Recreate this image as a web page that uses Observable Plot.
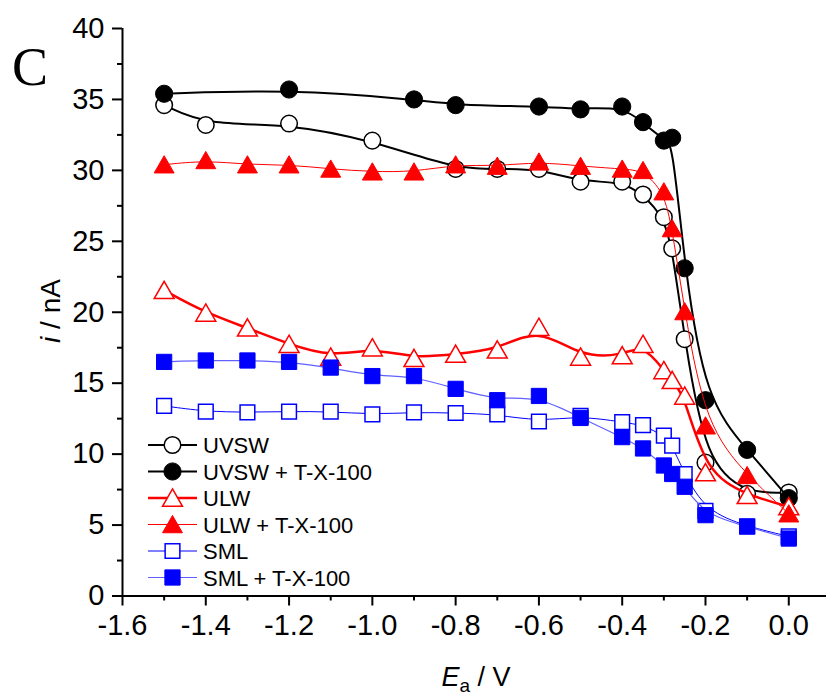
<!DOCTYPE html>
<html>
<head>
<meta charset="utf-8">
<script src="https://cdn.jsdelivr.net/npm/d3@7"></script>
<script src="https://cdn.jsdelivr.net/npm/@observablehq/plot@0.6"></script>
<style>
  html, body { margin: 0; padding: 0; background: #fff; overflow: hidden; }
  #chart svg { display: block; }
</style>
</head>
<body>
<div id="chart"></div>
<script>
// ---- data ----
const xFull = [-1.5,-1.4,-1.3,-1.2,-1.1,-1.0,-0.9,-0.8,-0.7,-0.6,-0.5,-0.4,-0.35,-0.3,-0.28,-0.25,-0.2,-0.1,0];

const uvswX  = [-1.5,-1.4,-1.2,-1.0,-0.8,-0.7,-0.6,-0.5,-0.4,-0.35,-0.3,-0.28,-0.25,-0.2,-0.1,0];
const uvswY  = [34.6,33.2,33.3,32.1,30.1,30.1,30.1,29.2,29.2,28.3,26.7,24.5,18.1,9.4,7.2,7.3];

const uvswTX = [-1.5,-1.2,-0.9,-0.8,-0.6,-0.5,-0.4,-0.35,-0.3,-0.28,-0.25,-0.2,-0.1,0];
const uvswTY = [35.4,35.7,35.0,34.6,34.5,34.3,34.5,33.4,32.1,32.3,23.1,13.8,10.3,6.9];

const ulwY   = [21.55,19.95,18.9,17.75,16.85,17.5,16.75,17.05,17.35,18.95,16.85,16.95,17.75,15.9,15.2,14.1,8.7,7.1,6.3];
const ulwTY  = [30.4,30.7,30.4,30.4,30.1,29.9,29.9,30.4,30.3,30.6,30.3,30.1,30.0,28.5,25.9,20.05,12.0,8.5,5.8];

const smlY   = [13.4,13.0,12.95,13.0,13.0,12.8,12.95,12.9,12.8,12.3,12.7,12.25,12.05,11.3,10.6,8.6,6.0,4.9,4.2];
const smlTY  = [16.5,16.6,16.6,16.5,16.1,15.5,15.5,14.6,13.8,14.1,12.55,11.2,10.4,9.2,8.6,7.7,5.7,4.9,4.05];

const seriesNames = ["UVSW","UVSW + T-X-100","ULW","ULW + T-X-100","SML","SML + T-X-100"];
const xMajorTicks = [-1.6,-1.4,-1.2,-1.0,-0.8,-0.6,-0.4,-0.2,0.0];
const xMinorTicks = [-1.5,-1.3,-1.1,-0.9,-0.7,-0.5,-0.3,-0.1];
const yMajorTicks = [0,5,10,15,20,25,30,35,40];
const yMinorTicks = [2.5,7.5,12.5,17.5,22.5,27.5,32.5,37.5];

// ---- styles ----
const styles = [
  {symbol: "circle",   r: 8.3, fill: "white", stroke: "black", line: "black",   lw: 2,   sw: 1.5, dy: 0},
  {symbol: "circle",   r: 8.6, fill: "black", stroke: "black", line: "black",   lw: 2,   sw: 1,   dy: 0},
  {symbol: "triangle", r: 7.4, fill: "white", stroke: "red",   line: "red",     lw: 2.5, sw: 1.5, dy: 2.5},
  {symbol: "triangle", r: 7.4, fill: "red",   stroke: "red",   line: "red",     lw: 1,   sw: 1,   dy: 2.5},
  {symbol: "square",   r: 8.3, fill: "white", stroke: "blue",  line: "blue",    lw: 1,   sw: 1.5, dy: 0},
  {symbol: "square",   r: 8.6, fill: "blue",  stroke: "blue",  line: "#6060ff", lw: 1.2, sw: 1,   dy: 0}
];

const seriesX = [uvswX, uvswTX, xFull, xFull, xFull, xFull];
const seriesY = [uvswY, uvswTY, ulwY, ulwTY, smlY, smlTY];
const tables = seriesNames.map((name, i) => seriesX[i].map((x, j) => ({x, y: seriesY[i][j], series: name})));

const W = 826, H = 695;
const font = "'Liberation Sans', Arial, sans-serif";
const dataMarks = [];
tables.forEach((data, i) => {
  const s = styles[i];
  dataMarks.push(Plot.line(data, {x: "x", y: "y", curve: "basis", stroke: s.line, strokeWidth: s.lw}));
  dataMarks.push(Plot.dot(data, {x: "x", y: "y", symbol: s.symbol, r: s.r, fill: s.fill, stroke: s.stroke, strokeWidth: s.sw, dy: s.dy}));
});

const chart = Plot.plot({
  width: W,
  height: H,
  marginLeft: 122,
  marginRight: 0,
  marginTop: 28,
  marginBottom: 99.5,
  style: {fontFamily: font, fontSize: "25px", color: "black", background: "white", overflow: "visible"},
  x: {domain: [-1.6, 0.0906], axis: null},
  y: {domain: [0, 40], axis: null},
  marks: [
    Plot.ruleY([0], {strokeWidth: 2}),
    Plot.ruleX([-1.6], {strokeWidth: 2}),
    Plot.axisX({ticks: xMajorTicks, tickSize: 10, tickPadding: 8, strokeWidth: 2, tickFormat: d => d.toFixed(1), label: null, fontSize: 29}),
    Plot.axisX({ticks: xMinorTicks, tickSize: 5, strokeWidth: 2, tickFormat: () => "", label: null}),
    Plot.axisY({ticks: yMajorTicks, tickSize: 10, tickPadding: 8, strokeWidth: 2, tickFormat: d => String(d), label: null, fontSize: 29}),
    Plot.axisY({ticks: yMinorTicks, tickSize: 5, strokeWidth: 2, tickFormat: () => "", label: null}),
    ...dataMarks
  ]
});
document.getElementById("chart").appendChild(chart);

// ---- extra text and legend drawn into the same SVG ----
const svg = d3.select(chart);
svg.selectAll("g[aria-label='x-axis tick label'] text, g[aria-label='y-axis tick label'] text")
  .attr("font-size", 29).style("font-size", "29px");

// panel letter
svg.append("text").attr("x", 12).attr("y", 85).attr("text-anchor", "start")
  .attr("font-family", "'Liberation Serif', 'Times New Roman', serif").attr("font-size", 54).attr("fill", "black").text("C");

// x label
const xl = svg.append("text").attr("x", 476).attr("y", 686).attr("text-anchor", "middle")
  .attr("font-family", font).attr("font-size", 27).attr("fill", "black");
xl.append("tspan").attr("font-style", "italic").text("E");
xl.append("tspan").attr("font-size", 19).attr("dy", 6).text("a");
xl.append("tspan").attr("dy", -6).text(" / V");

// y label
const yl = svg.append("text").attr("transform", "translate(60,311) rotate(-90)").attr("text-anchor", "middle")
  .attr("font-family", font).attr("font-size", 28).attr("fill", "black");
yl.append("tspan").attr("font-style", "italic").text("i");
yl.append("tspan").text(" / nA");

// legend
const leg = svg.append("g");
seriesNames.forEach((name, i) => {
  const s = styles[i];
  const cy = 445 + i * 26.5;
  leg.append("line").attr("x1", 148).attr("x2", 197).attr("y1", cy).attr("y2", cy)
    .attr("stroke", s.line).attr("stroke-width", s.lw);
  const sym = {circle: d3.symbolCircle, triangle: d3.symbolTriangle, square: d3.symbolSquare}[s.symbol];
  leg.append("path").attr("d", d3.symbol(sym, Math.PI * s.r * s.r)())
    .attr("transform", `translate(172.5,${cy + s.dy})`)
    .attr("fill", s.fill).attr("stroke", s.stroke).attr("stroke-width", s.sw);
  leg.append("text").attr("x", 203).attr("y", cy + 8).attr("text-anchor", "start")
    .attr("font-family", font).attr("font-size", 22).attr("fill", "black").text(name);
});
</script>
</body>
</html>
